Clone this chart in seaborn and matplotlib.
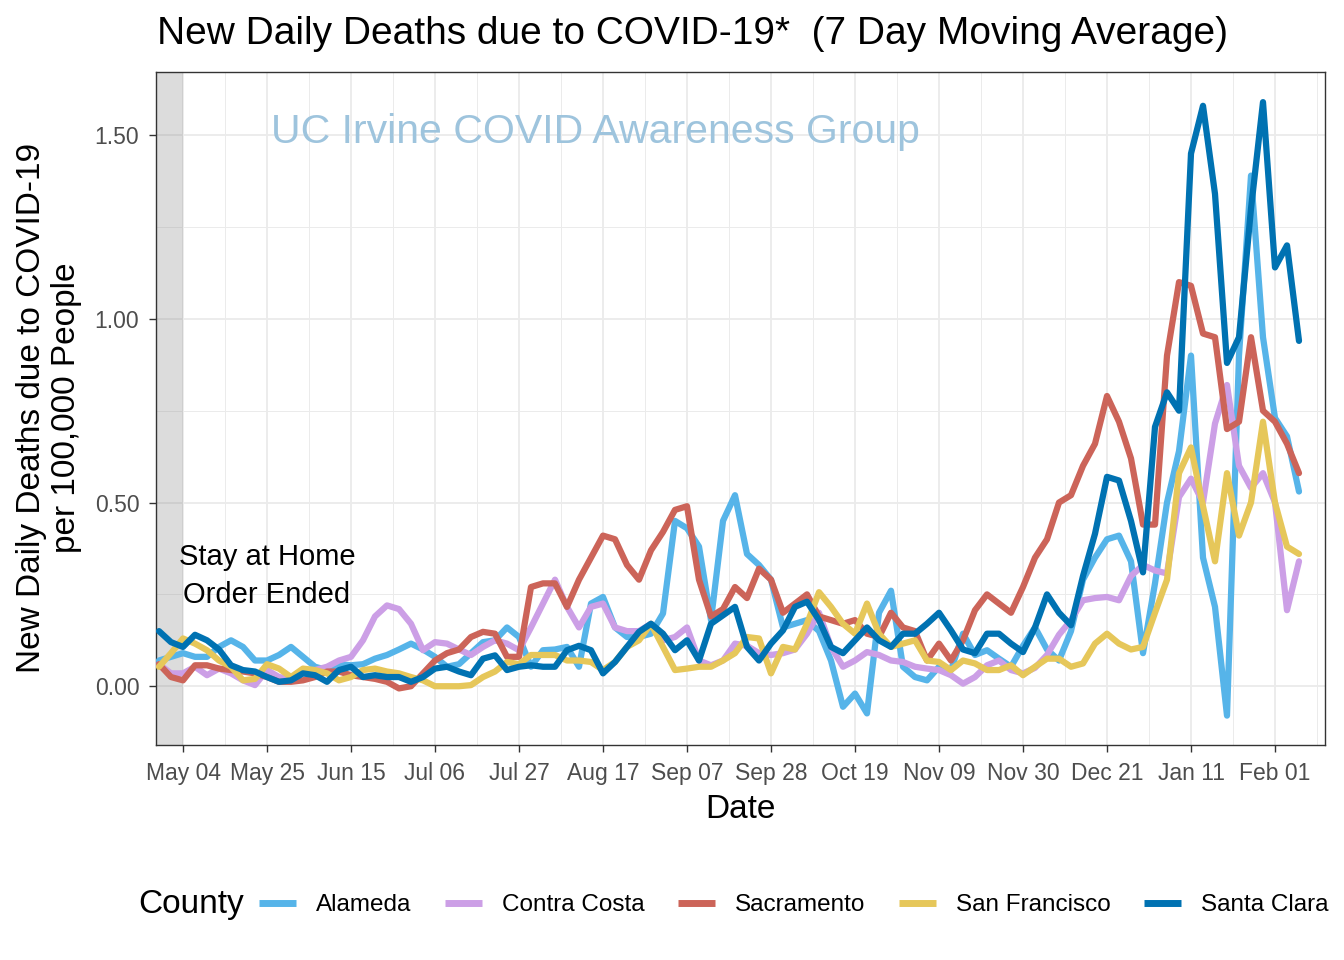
import pandas as pd
import seaborn as sns
import matplotlib
matplotlib.use("Agg")
import matplotlib.pyplot as plt
import matplotlib.dates as mdates
from matplotlib.lines import Line2D

# one reading every 3 days, Apr 28 2020 - Feb 07 2021
dates = pd.date_range("2020-04-28", "2021-02-07", freq="3D")

alameda = [
    0.07, 0.08, 0.09, 0.08, 0.08, 0.107, 0.125, 0.107, 0.07, 0.07,
    0.085, 0.107, 0.08, 0.053, 0.044, 0.06, 0.057, 0.06, 0.075, 0.085,
    0.10, 0.116, 0.10, 0.08, 0.053, 0.06, 0.09, 0.12, 0.125,
    0.16, 0.134, 0.053, 0.098, 0.10, 0.107, 0.053, 0.225, 0.243, 0.16,
    0.134, 0.134, 0.143, 0.198, 0.45, 0.43, 0.38, 0.18, 0.45, 0.52,
    0.36, 0.33, 0.29, 0.16, 0.17, 0.18, 0.15, 0.07, -0.056, -0.02,
    -0.074, 0.2, 0.26, 0.053, 0.025, 0.016, 0.053, 0.044,
    0.143, 0.085, 0.098, 0.075, 0.053, 0.11, 0.16, 0.1, 0.07, 0.15,
    0.29, 0.35, 0.4, 0.41, 0.34, 0.09, 0.28, 0.5, 0.64, 0.9,
    0.35, 0.216, -0.08, 0.9, 1.39, 0.95, 0.73, 0.68, 0.53,
]
contra_costa = [
    0.06, 0.035, 0.035, 0.053, 0.03, 0.048, 0.035, 0.016, 0.003, 0.044,
    0.025, 0.02, 0.035, 0.044, 0.053, 0.07, 0.08, 0.125, 0.19, 0.22,
    0.21, 0.17, 0.098, 0.12, 0.116, 0.10, 0.085, 0.107, 0.125,
    0.116, 0.098, 0.16, 0.225, 0.29, 0.216, 0.16, 0.216, 0.225, 0.16,
    0.15, 0.15, 0.17, 0.125, 0.134, 0.16, 0.07, 0.057, 0.07, 0.116,
    0.11, 0.09, 0.085, 0.09, 0.10, 0.143, 0.2, 0.107, 0.053, 0.07,
    0.093, 0.085, 0.07, 0.066, 0.053, 0.048, 0.044, 0.03,
    0.007, 0.025, 0.057, 0.07, 0.044, 0.035, 0.05, 0.085, 0.14, 0.18,
    0.234, 0.24, 0.243, 0.234, 0.3, 0.33, 0.315, 0.307, 0.515, 0.565,
    0.5, 0.715, 0.82, 0.6, 0.54, 0.58, 0.5, 0.207, 0.34,
]
sacramento = [
    0.06, 0.025, 0.016, 0.057, 0.057, 0.048, 0.044, 0.04, 0.035, 0.025,
    0.012, 0.012, 0.016, 0.025, 0.04, 0.04, 0.03, 0.025, 0.02, 0.012,
    -0.006, 0.0, 0.035, 0.07, 0.09, 0.10, 0.134, 0.148, 0.143,
    0.08, 0.08, 0.27, 0.28, 0.28, 0.216, 0.29, 0.35, 0.41, 0.40,
    0.33, 0.29, 0.37, 0.42, 0.48, 0.49, 0.29, 0.19, 0.21, 0.27,
    0.24, 0.32, 0.29, 0.20, 0.225, 0.25, 0.19, 0.18, 0.17, 0.18,
    0.143, 0.134, 0.20, 0.16, 0.15, 0.07, 0.116, 0.07,
    0.125, 0.207, 0.25, 0.225, 0.2, 0.27, 0.35, 0.4, 0.5, 0.52,
    0.6, 0.66, 0.79, 0.72, 0.62, 0.44, 0.44, 0.9, 1.1, 1.09,
    0.96, 0.95, 0.7, 0.72, 0.95, 0.75, 0.72, 0.66, 0.58,
]
san_francisco = [
    0.053, 0.09, 0.13, 0.116, 0.098, 0.07, 0.053, 0.016, 0.02, 0.06,
    0.048, 0.025, 0.048, 0.044, 0.035, 0.016, 0.025, 0.044, 0.048, 0.04,
    0.035, 0.025, 0.016, 0.0, 0.0, 0.0, 0.003, 0.025, 0.04,
    0.066, 0.06, 0.085, 0.085, 0.085, 0.07, 0.07, 0.066, 0.044, 0.066,
    0.107, 0.125, 0.17, 0.107, 0.044, 0.048, 0.053, 0.053, 0.07, 0.09,
    0.134, 0.13, 0.035, 0.107, 0.10, 0.17, 0.256, 0.216, 0.17, 0.143,
    0.225, 0.143, 0.107, 0.116, 0.125, 0.07, 0.066, 0.044,
    0.07, 0.062, 0.044, 0.044, 0.057, 0.03, 0.053, 0.075, 0.075, 0.053,
    0.062, 0.116, 0.143, 0.116, 0.1, 0.107, 0.2, 0.29, 0.58, 0.65,
    0.49, 0.34, 0.58, 0.41, 0.5, 0.72, 0.5, 0.38, 0.36,
]
santa_clara = [
    0.15, 0.12, 0.107, 0.14, 0.125, 0.10, 0.057, 0.044, 0.04, 0.025,
    0.012, 0.016, 0.035, 0.03, 0.012, 0.044, 0.053, 0.025, 0.03, 0.025,
    0.025, 0.012, 0.025, 0.048, 0.053, 0.04, 0.03, 0.075, 0.084,
    0.044, 0.053, 0.057, 0.053, 0.053, 0.098, 0.11, 0.098, 0.035, 0.066,
    0.107, 0.148, 0.17, 0.143, 0.098, 0.125, 0.07, 0.17, 0.193, 0.216,
    0.107, 0.07, 0.116, 0.152, 0.216, 0.23, 0.18, 0.107, 0.09, 0.125,
    0.16, 0.125, 0.107, 0.143, 0.143, 0.17, 0.2, 0.152,
    0.1, 0.09, 0.143, 0.143, 0.116, 0.093, 0.16, 0.25, 0.2, 0.166,
    0.3, 0.415, 0.57, 0.56, 0.45, 0.31, 0.706, 0.8, 0.75, 1.45,
    1.58, 1.34, 0.88, 0.95, 1.3, 1.59, 1.14, 1.2, 0.94,
]

counties = ["Alameda", "Contra Costa", "Sacramento", "San Francisco", "Santa Clara"]
colors = ["#56B4E9", "#CC9FE6", "#CC6459", "#E6C75A", "#0072B2"]

tick_dates = pd.date_range("2020-05-04", "2021-02-01", freq="21D")
tick_labels = [d.strftime("%b %d") for d in tick_dates]
y_ticks = [0.0, 0.5, 1.0, 1.5]
y_labels = ["0.00", "0.50", "1.00", "1.50"]

# build the long table for seaborn
df = pd.DataFrame({"Date": dates, "Alameda": alameda, "Contra Costa": contra_costa,
                   "Sacramento": sacramento, "San Francisco": san_francisco,
                   "Santa Clara": santa_clara})
long_df = df.melt(id_vars="Date", var_name="County", value_name="Deaths")

sns.set_style("white")
plt.rcParams["font.family"] = ["Liberation Sans", "DejaVu Sans"]
plt.rcParams["text.color"] = "black"

fig = plt.figure(figsize=(13.44, 9.6), dpi=100)
ax = fig.add_axes([156 / 1344, 1 - 745 / 960, (1325 - 156) / 1344, (745 - 72) / 960])

x_left = pd.Timestamp("2020-04-27 06:00")
x_right = pd.Timestamp("2021-02-13 12:00")
order_end = pd.Timestamp("2020-05-04")

# grid (ggplot theme_bw look)
tick_num = mdates.date2num(tick_dates)
minor_x = list(tick_num - 10.5) + [tick_num[-1] + 10.5]
ax.set_xticks(tick_num)
ax.set_xticklabels(tick_labels)
ax.set_xticks(minor_x, minor=True)
ax.set_yticks(y_ticks)
ax.set_yticklabels(y_labels)
ax.set_yticks([0.25, 0.75, 1.25], minor=True)
ax.grid(which="major", color="#EBEBEB", linewidth=1.3)
ax.grid(which="minor", color="#EBEBEB", linewidth=0.7)
ax.set_axisbelow(True)

# stay at home shading
ax.axvspan(x_left, order_end, color="grey", alpha=0.27, lw=0, zorder=1)

sns.lineplot(data=long_df, x="Date", y="Deaths", hue="County", hue_order=counties,
             palette=colors, linewidth=4.5, legend=False, errorbar=None, ax=ax, zorder=3)

ax.set_xlim(x_left, x_right)
ax.set_ylim(-0.16, 1.672)
ax.set_xlabel("")
ax.set_ylabel("")

for s in ax.spines.values():
    s.set_color("#333333")
    s.set_linewidth(1.0)
ax.tick_params(axis="both", which="major", length=5, width=1, color="#333333",
               labelsize=16.5, labelcolor="#4D4D4D", pad=7, bottom=True, left=True)
ax.tick_params(which="minor", length=0)

# annotations
ax.text(pd.Timestamp("2020-05-25"), 0.3, "Stay at Home\nOrder Ended", ha="center",
        va="center", fontsize=21, linespacing=1.45, color="black", zorder=4)
ax.text(pd.Timestamp("2020-08-15"), 1.51, "UC Irvine COVID Awareness Group", ha="center",
        va="center", fontsize=29.5, color="#9EC4DD", zorder=2)

fig.text(157 / 1344, 1 - 44 / 960, "New Daily Deaths due to COVID-19*  (7 Day Moving Average)",
         fontsize=28, ha="left", va="baseline")
fig.text(0.551, 1 - 810 / 960, "Date", fontsize=24, ha="center", va="center")
fig.text(49 / 1344, 1 - 408 / 960, "New Daily Deaths due to COVID-19\nper 100,000 People",
         fontsize=24, rotation=90, ha="center", va="center", multialignment="center",
         linespacing=1.15)

# legend along the bottom
fig.text(138 / 1344, 1 - 905 / 960, "County", fontsize=24, ha="left", va="center")
handles = [Line2D([], [], color=c, lw=5, solid_capstyle="butt") for c in colors]
fig.legend(handles, counties, loc="center left", bbox_to_anchor=(259 / 1344, 1 - 905 / 960),
           ncol=5, frameon=False, fontsize=17.5, handlelength=1.54, handletextpad=0.82,
           columnspacing=1.36, borderaxespad=0, borderpad=0)

fig.savefig("out.png", dpi=100)
